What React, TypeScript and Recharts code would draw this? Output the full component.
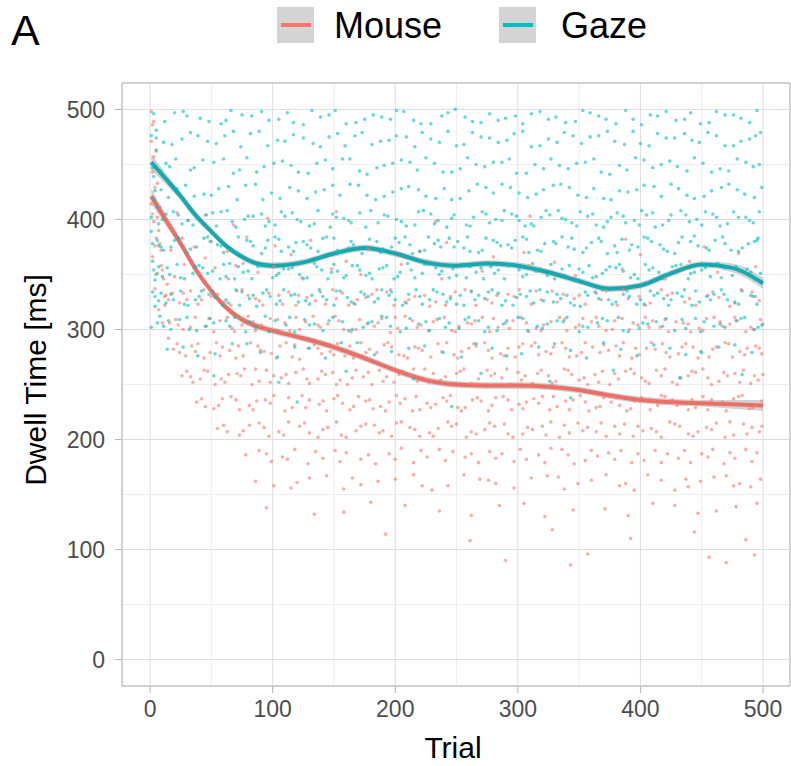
import { ComposedChart, Scatter, Line, Area, XAxis, YAxis, CartesianGrid, ReferenceLine, Label } from "recharts"

// smoothed fit (loess-like)
const fitTrials = [1, 12, 25, 37, 50, 62, 75, 87, 100, 125, 150, 175, 200, 225, 250, 275, 300, 325, 350, 375, 400, 425, 450, 475, 500]
const mouseFit = [421, 401, 378, 355, 335, 320, 309, 303, 299, 292, 284, 274, 263, 254, 250, 249, 249, 248, 245, 240, 236, 234, 233, 232, 231]
const gazeFit = [452, 438, 421, 404, 389, 376, 366, 360, 358, 361, 369, 374, 369, 361, 358, 360, 358, 352, 344, 337, 340, 351, 359, 356, 342]
const fitSe = [7, 5, 4, 4, 3, 3, 3, 3, 3, 3, 3, 3, 3, 3, 3, 3, 3, 3, 3, 3, 3, 3, 3, 4, 5]

const xTicks = [0, 100, 200, 300, 400, 500]
const yTicks = [0, 100, 200, 300, 400, 500]
const minorTicks = [50, 150, 250, 350, 450]

// [trial, dwell ms]
const mousePoints: [number, number][] = [
  [1,498],[2,486],[1,471],[3,457],[2,443],[4,429],[1,414],[3,398],[5,383],[2,366],[6,351],[4,337],[8,411],[9,372],[11,346],[13,331],[7,318],[10,306],[15,292],[3,489],[5,462],[6,433],[2,405],[7,390],[4,376],[9,358],[12,322],[14,341],
  [6,402],[14,397],[22,406],[31,399],[45,404],[68,395],[96,401],[152,407],[233,398],[310,403],
  [8,378],[17,372],[26,383],[36,375],[50,380],[63,371],[79,384],[102,376],[131,381],[178,373],[242,379],[305,370],[388,382],[452,375],
  [45,365],[70,358],[115,368],[160,362],[220,371],[280,366],[330,361],[400,368],[440,362],[480,369],
  [10,354],[20,348],[28,359],[40,351],[53,356],[64,346],[76,360],[88,352],[101,357],[124,347],[148,355],[172,350],[205,359],[238,346],[271,353],[309,358],[347,349],[385,355],[420,346],[463,352],[494,357],
  [12,330],[24,324],[33,335],[42,327],[55,332],[66,322],[75,336],[86,328],[97,333],[108,323],[121,331],[135,326],[149,336],[162,322],[176,329],[193,334],[208,325],[224,331],[241,322],[257,336],[275,327],[292,332],[311,323],[328,335],[346,328],[364,333],[381,322],[399,330],[417,336],[436,325],[455,331],[473,321],[491,334],
  [18,333],[30,327],[44,336],[61,325],[80,331],[92,322],[113,334],[128,329],[143,323],[157,333],[169,327],[185,336],[199,322],[216,330],[233,325],[249,334],[266,322],[283,331],[301,336],[319,327],[337,332],[355,323],[372,335],[390,328],[408,324],[426,333],[445,322],[464,329],[482,336],[497,326],
  [15,327],[27,333],[39,323],[50,330],[71,335],[89,326],[105,331],[119,322],[139,334],[152,328],[166,324],[181,332],[196,336],[211,327],[228,321],[245,330],[262,334],[279,324],[297,330],[315,335],[332,325],[350,331],[368,327],[386,336],[404,322],[422,331],[440,328],[459,334],[477,324],[494,330],
  [16,306],[27,300],[37,311],[46,303],[57,308],[69,298],[80,312],[91,304],[104,309],[114,299],[127,307],[139,302],[151,312],[164,298],[177,305],[189,310],[202,301],[214,308],[227,299],[240,311],[252,303],[265,308],[277,298],[290,306],[302,311],[315,301],[327,307],[340,299],[353,310],[366,303],[379,308],[391,300],[404,311],[416,302],[429,307],[441,298],[454,310],[467,303],[479,308],[492,300],[500,305],
  [21,309],[33,302],[52,298],[63,311],[75,304],[86,299],[98,310],[110,306],[122,300],[133,312],[145,305],[158,300],[171,309],[183,303],[196,297],[208,312],[221,304],[234,309],[246,299],[259,306],[271,311],[284,302],[296,308],[309,298],[321,304],[334,311],[347,302],[360,307],[372,299],[385,310],[398,304],[410,308],[423,298],[435,306],[448,301],[460,311],[473,305],[486,298],[498,309],
  [23,304],[48,310],[67,301],[84,307],[103,299],[119,311],[137,304],[154,308],[168,300],[186,306],[200,311],[218,302],[231,307],[249,298],[262,305],[280,310],[293,301],[307,306],[319,299],[338,309],[350,304],[364,311],[377,300],[394,306],[407,302],[420,309],[439,305],[451,299],[465,307],[477,311],[490,302],
  [19,282],[29,276],[39,287],[49,279],[59,284],[70,274],[82,288],[93,280],[106,285],[116,275],[129,283],[140,278],[153,287],[166,274],[179,282],[191,286],[203,277],[216,284],[229,275],[242,288],[254,280],[266,285],[279,274],[292,283],[304,287],[317,277],[329,284],[342,275],[355,288],[367,279],[380,285],[393,274],[405,283],[418,287],[431,278],[443,284],[456,275],[469,288],[481,280],[494,285],
  [24,279],[34,285],[44,274],[54,288],[65,281],[76,276],[88,285],[99,278],[111,288],[122,273],[134,286],[147,280],[159,276],[172,288],[185,279],[197,284],[210,274],[222,281],[235,287],[248,277],[260,283],[273,288],[286,278],[298,275],[311,285],[323,280],[336,288],[348,276],[361,284],[374,281],[386,288],[399,277],[412,282],[424,275],[437,287],[449,280],[462,284],[475,275],[487,283],[499,278],
  [22,287],[37,280],[57,276],[72,285],[90,281],[103,274],[118,286],[137,283],[150,277],[163,285],[176,279],[194,288],[207,276],[219,283],[238,280],[251,274],[264,287],[276,281],[289,276],[301,284],[314,288],[327,278],[339,283],[352,279],[370,286],[383,276],[396,283],[409,288],[421,279],[434,284],[447,274],[459,282],[472,287],[485,277],[497,283],
  [26,258],[35,252],[47,262],[58,255],[71,260],[83,250],[95,263],[107,256],[119,261],[130,251],[143,259],[155,254],[168,263],[181,250],[193,257],[206,262],[218,253],[231,260],[244,251],[256,264],[268,255],[281,260],[294,250],[306,258],[319,263],[331,253],[344,259],[357,250],[369,262],[382,255],[395,260],[407,251],[420,264],[433,256],[445,261],[458,250],[471,258],[484,263],[496,254],
  [30,262],[41,255],[53,250],[64,259],[77,264],[89,253],[101,258],[113,251],[125,264],[137,255],[149,261],[161,250],[174,257],[187,263],[199,252],[212,259],[224,264],[237,254],[250,260],[262,251],[275,263],[287,256],[300,261],[312,251],[325,258],[338,264],[350,254],[363,259],[375,250],[388,262],[401,256],[413,263],[426,252],[439,258],[451,264],[464,253],[477,260],[490,251],[500,259],
  [33,257],[44,263],[61,252],[74,258],[86,264],[98,252],[111,259],[128,255],[140,262],[152,250],[165,256],[178,261],[190,253],[203,259],[215,264],[228,252],[241,257],[253,262],[266,250],[278,258],[291,264],[303,254],[316,260],[328,251],[341,263],[354,256],[366,252],[379,260],[392,264],[404,253],[417,258],[430,250],[442,262],[455,256],[468,261],[481,252],[493,258],
  [38,234],[52,228],[66,239],[81,231],[94,236],[110,226],[124,240],[138,232],[150,237],[163,227],[176,235],[188,230],[201,240],[214,226],[226,233],[239,238],[251,229],[263,236],[276,226],[288,239],[301,232],[313,237],[326,227],[339,235],[351,240],[364,229],[376,234],[389,226],[401,238],[414,231],[426,236],[439,227],[451,239],[464,232],[476,237],[489,228],[499,235],
  [45,230],[59,237],[73,227],[87,235],[101,240],[116,229],[130,236],[144,226],[157,233],[170,239],[182,228],[195,234],[208,237],[220,227],[233,232],[245,240],[257,229],[270,235],[282,238],[295,227],[307,234],[320,239],[332,230],[345,236],[358,226],[370,238],[383,231],[395,235],[408,227],[420,239],[433,233],[445,229],[458,236],[470,226],[483,240],[495,231],
  [42,237],[56,231],[70,236],[84,227],[98,233],[113,238],[127,229],[141,235],[153,240],[166,230],[179,236],[192,226],[204,233],[217,239],[229,229],[242,235],[254,226],[267,238],[279,231],[292,236],[304,228],[317,233],[329,239],[342,227],[355,234],[367,230],[380,238],[392,228],[405,235],[417,240],[430,231],[442,236],[455,227],[467,234],[480,239],[492,229],
  [55,210],[73,204],[89,215],[105,207],[122,212],[137,202],[152,216],[168,208],[183,213],[197,203],[212,211],[228,206],[243,216],[258,202],[273,209],[289,214],[304,205],[320,212],[334,202],[349,215],[364,207],[379,212],[394,203],[409,210],[424,216],[439,205],[454,211],[469,202],[484,214],[497,207],
  [63,207],[81,213],[97,203],[113,216],[130,206],[145,211],[160,202],[176,214],[190,208],[205,216],[220,203],[235,210],[250,214],[266,205],[281,212],[296,202],[312,209],[327,216],[342,206],[357,211],[372,203],[387,214],[402,208],[417,202],[432,212],[447,207],[462,215],[476,204],[491,211],
  [60,213],[76,208],[93,211],[109,204],[126,215],[141,209],[156,204],[172,212],[187,206],[201,215],[216,209],[231,203],[246,212],[262,207],[277,215],[292,205],[308,211],[323,204],[338,213],[353,208],[368,215],[383,205],[398,212],[413,207],[428,214],[443,203],[458,209],[473,216],[487,205],[499,212],
  [78,186],[99,180],[118,191],[141,183],[160,188],[184,178],[205,192],[226,184],[247,189],[268,179],[287,187],[307,182],[327,192],[346,178],[365,185],[384,190],[403,181],[422,187],[441,179],[459,191],[477,183],[495,188],
  [89,190],[108,184],[129,178],[151,190],[172,182],[195,187],[215,179],[236,191],[257,184],[277,189],[297,180],[317,186],[336,191],[355,181],[374,188],[393,179],[412,190],[431,183],[450,187],[468,178],[486,191],
  [95,187],[112,182],[135,189],[155,180],[178,186],[200,182],[221,190],[241,181],[262,187],[282,183],[302,191],[322,179],[341,186],[360,190],[379,182],[398,187],[417,179],[436,190],[455,184],[473,188],[491,180],
  [86,162],[115,156],[144,167],[172,159],[200,164],[230,154],[256,168],[282,160],[311,165],[338,155],[360,163],[383,158],[406,168],[428,154],[449,162],[470,167],[490,157],
  [101,158],[130,165],[158,155],[186,162],[215,168],[243,158],[269,164],[297,156],[324,167],[349,160],[372,168],[395,154],[417,163],[439,157],[460,166],[481,160],[498,164],
  [120,161],[165,165],[222,158],[276,163],[333,166],[388,160],[437,164],[476,158],
  [95,138],[134,132],[180,143],[236,135],[285,140],[322,130],[371,137],[410,142],[447,133],[478,139],
  [158,134],[208,140],[262,131],[305,142],[345,136],[390,131],[428,140],[462,135],[495,142],
  [192,114],[261,108],[328,118],[392,110],[444,116],[486,109],
  [290,90],[343,86],[357,96],[456,93],[470,88],[493,95],
]

const gazePoints: [number, number][] = [
  [1,476],[2,447],[3,418],[1,389],[2,362],[4,321],[1,302],[5,463],[3,439],[6,411],[2,334],[7,376],[4,345],[8,312],[5,481],
  [3,496],[12,489],[27,498],[41,492],[58,487],[66,499],[83,494],[97,490],[112,497],[125,486],[139,493],[151,499],[168,488],[182,495],[196,491],[207,498],[221,487],[238,494],[249,500],[263,489],[277,496],[290,492],[304,487],[318,498],[331,493],[347,489],[359,497],[372,491],[388,499],[401,486],[414,494],[429,490],[441,497],[456,488],[469,495],[482,492],[495,499],
  [20,497],[48,489],[75,495],[105,491],[132,499],[160,487],[189,493],[215,490],[243,497],[270,488],[298,494],[325,491],[353,499],[380,487],[408,495],[436,491],[462,498],[489,488],
  [30,494],[62,490],[91,498],[117,488],[146,495],[175,491],[201,499],[229,487],[257,493],[284,490],[311,496],[339,488],[366,494],[394,491],[421,498],[449,487],[476,495],
  [5,474],[18,468],[33,479],[47,471],[61,476],[74,466],[89,480],[104,472],[117,477],[133,469],[146,475],[159,467],[173,479],[188,471],[201,476],[216,466],[229,473],[243,480],[256,468],[270,475],[284,470],[297,478],[311,466],[325,473],[338,479],[352,469],[366,476],[379,471],[394,480],[407,467],[421,474],[436,478],[448,470],[462,476],[476,467],[489,473],[498,479],
  [11,470],[39,476],[68,480],[96,467],[125,474],[153,478],[181,468],[209,475],[236,470],[263,479],[291,472],[318,467],[345,476],[373,480],[400,469],[428,474],[455,479],[482,471],
  [26,473],[54,469],[82,478],[110,471],[139,466],[167,476],[195,472],[222,479],[250,467],[277,474],[304,480],[332,470],[359,475],[387,468],[414,478],[442,472],[469,467],[494,476],
  [2,450],[9,444],[21,455],[36,447],[52,452],[68,442],[79,456],[93,448],[108,453],[121,443],[136,451],[149,446],[163,455],[177,441],[191,449],[205,454],[218,445],[232,451],[246,443],[259,456],[273,448],[287,452],[299,442],[314,450],[327,455],[341,446],[355,452],[368,443],[383,449],[396,456],[410,447],[424,453],[438,444],[451,451],[465,446],[479,455],[492,448],
  [16,448],[43,454],[73,445],[101,451],[129,442],[157,455],[185,447],[212,452],[239,443],[266,450],[293,455],[321,446],[348,451],[375,441],[403,454],[430,448],[458,443],[486,452],
  [13,451],[33,445],[60,455],[87,443],[115,449],[143,454],[171,444],[198,451],[225,456],[253,446],[280,452],[307,442],[334,449],[362,455],[389,445],[417,450],[444,456],[472,444],[497,450],
  [4,426],[15,420],[29,431],[44,423],[56,428],[71,418],[86,432],[99,424],[114,429],[128,419],[142,427],[155,422],[170,431],[184,418],[198,425],[211,430],[225,421],[240,428],[253,419],[267,432],[280,424],[294,429],[308,420],[321,427],[335,432],[349,422],[362,428],[376,418],[390,425],[403,431],[417,421],[431,428],[444,419],[458,426],[472,432],[485,423],[499,429],
  [9,427],[36,421],[64,430],[92,418],[121,426],[149,431],[177,422],[205,428],[233,419],[260,426],[287,432],[315,423],[342,429],[370,419],[397,427],[425,432],[452,421],[479,427],
  [22,428],[50,422],[78,431],[106,419],[135,425],[163,432],[191,421],[219,427],[246,418],[274,429],[301,424],[329,431],[356,420],[383,426],[411,430],[438,422],[466,429],[493,420],
  [1,402],[7,396],[19,407],[31,399],[46,404],[54,394],[63,408],[77,400],[91,405],[102,395],[110,403],[123,398],[137,408],[147,393],[158,401],[171,406],[186,397],[194,403],[209,394],[223,408],[235,399],[248,404],[258,395],[271,407],[282,400],[295,405],[306,394],[319,402],[333,408],[344,397],[357,403],[370,393],[381,406],[395,399],[405,404],[418,395],[433,408],[446,400],[459,405],[471,396],[486,402],[497,407],
  [13,405],[26,396],[40,401],[58,407],[70,393],[84,403],[97,398],[116,406],[130,394],[152,402],[164,397],[180,408],[201,400],[216,395],[229,405],[242,393],[264,402],[277,397],[289,408],[301,399],[313,394],[326,404],[339,400],[351,407],[364,395],[376,402],[388,397],[401,408],[412,393],[425,404],[440,398],[453,407],[465,394],[480,402],[492,397],
  [10,400],[23,404],[35,395],[51,406],[67,398],[80,403],[94,394],[107,407],[120,400],[134,396],[149,405],[162,399],[176,393],[191,404],[205,398],[219,407],[232,396],[246,401],[261,394],[274,405],[287,399],[299,403],[311,396],[323,408],[336,401],[348,394],[361,405],[373,398],[386,403],[399,395],[410,406],[423,399],[437,404],[450,395],[462,402],[476,407],[489,399],
  [2,378],[11,372],[23,383],[38,375],[49,380],[60,370],[72,384],[84,376],[96,381],[107,371],[119,379],[131,374],[144,384],[156,370],[166,377],[179,382],[190,373],[203,379],[214,369],[227,384],[237,375],[251,380],[261,371],[274,383],[286,376],[298,381],[309,370],[322,378],[336,384],[346,373],[360,379],[373,369],[385,382],[398,375],[409,380],[422,371],[434,384],[447,376],[461,381],[474,372],[488,378],[496,383],
  [6,381],[17,375],[30,370],[44,383],[55,377],[67,372],[79,381],[91,369],[102,384],[113,375],[125,380],[137,371],[150,383],[162,374],[173,369],[185,380],[197,375],[208,384],[220,371],[232,378],[244,383],[256,374],[268,370],[280,381],[292,377],[304,384],[316,372],[329,380],[341,375],[353,370],[366,383],[379,376],[391,372],[403,384],[416,377],[428,369],[441,380],[454,374],[467,384],[480,371],[493,380],
  [9,375],[20,381],[33,373],[47,384],[58,376],[70,370],[82,380],[94,374],[105,382],[117,371],[128,377],[141,383],[153,372],[164,380],[176,375],[188,370],[200,383],[212,377],[224,372],[235,381],[248,375],[259,384],[271,372],[283,379],[295,374],[307,382],[319,371],[331,378],[344,383],[356,374],[368,380],[381,370],[393,377],[406,383],[419,373],[431,379],[444,385],[456,372],[469,378],[483,374],[495,381],
  [3,354],[10,348],[22,359],[35,351],[43,356],[57,346],[65,360],[76,352],[88,357],[100,347],[109,355],[122,350],[134,360],[145,346],[153,353],[165,358],[176,349],[187,355],[199,346],[210,360],[222,351],[233,356],[244,347],[255,359],[266,352],[278,357],[289,346],[301,354],[312,360],[324,349],[336,355],[348,345],[358,358],[369,351],[380,356],[392,347],[404,359],[415,352],[426,357],[439,346],[450,354],[463,360],[475,349],[487,355],[498,351],
  [7,357],[16,350],[28,346],[40,358],[51,353],[62,348],[72,357],[83,346],[94,359],[105,351],[116,356],[128,347],[140,354],[150,359],[160,349],[171,354],[181,346],[193,358],[204,352],[216,347],[227,359],[238,353],[250,349],[261,357],[272,346],[284,354],[295,359],[307,350],[318,355],[330,346],[342,358],[353,352],[364,348],[375,357],[386,353],[398,346],[410,356],[421,350],[433,359],[444,352],[457,348],[469,356],[481,353],[493,346],
  [5,350],[14,356],[25,347],[37,357],[47,351],[60,359],[69,346],[80,353],[91,358],[103,349],[113,355],[125,346],[136,357],[148,352],[158,347],[169,358],[179,351],[190,356],[202,348],[213,354],[224,359],[236,350],[247,355],[258,347],[270,356],[281,351],[292,358],[304,348],[315,353],[327,359],[338,349],[350,355],[361,347],[372,354],[383,359],[395,350],[407,354],[418,346],[429,358],[441,351],[453,356],[466,347],[478,357],[490,352],
  [4,330],[13,324],[25,335],[37,327],[48,332],[59,322],[70,336],[81,328],[92,333],[103,323],[115,331],[127,326],[138,336],[150,322],[161,329],[172,334],[183,325],[195,331],[206,322],[217,336],[228,327],[239,332],[250,323],[262,335],[273,328],[284,333],[296,322],[307,330],[318,336],[329,325],[340,331],[351,321],[363,334],[374,327],[386,332],[397,323],[408,335],[419,328],[430,333],[442,322],[454,330],[466,336],[477,325],[490,331],
  [9,333],[19,327],[31,322],[42,335],[53,329],[64,324],[75,334],[87,321],[98,330],[109,336],[121,325],[132,331],[144,327],[155,335],[167,323],[178,330],[189,336],[200,327],[211,332],[222,323],[234,334],[245,328],[256,322],[268,331],[279,336],[290,326],[302,332],[313,324],[324,334],[335,328],[346,322],[357,331],[369,336],[380,325],[391,330],[403,323],[414,333],[425,327],[436,336],[448,325],[460,332],[471,327],[483,335],[495,323],
  [7,326],[17,332],[28,323],[40,330],[51,335],[62,327],[73,322],[84,331],[95,336],[106,326],[118,332],[130,323],[141,330],[152,335],[164,325],[175,332],[186,328],[197,334],[209,324],[220,330],[231,336],[242,325],[253,331],[265,327],[276,334],[287,322],[299,329],[310,335],[321,326],[332,332],[343,324],[355,334],[366,328],[377,323],[389,335],[400,327],[411,331],[423,322],[434,330],[445,335],[457,327],[468,332],[480,323],[492,330],
  [6,306],[17,300],[30,311],[45,303],[62,308],[78,298],[94,312],[111,304],[126,309],[141,299],[157,307],[174,302],[189,312],[204,298],[219,305],[236,310],[252,301],[268,308],[283,299],[300,311],[316,303],[332,308],[350,298],[365,306],[382,311],[399,301],[413,307],[428,299],[445,310],[460,303],[478,308],[493,300],
  [11,303],[24,309],[38,299],[52,306],[69,311],[86,302],[102,308],[118,298],[134,305],[149,311],[165,300],[181,307],[196,303],[212,310],[228,299],[244,306],[260,311],[276,302],[291,308],[308,299],[324,305],[340,311],[357,302],[373,308],[390,298],[406,305],[421,310],[437,301],[452,307],[469,302],[485,311],[499,304],
  [15,308],[32,300],[49,310],[65,303],[81,307],[97,298],[114,311],[130,304],[146,308],[162,299],[178,306],[193,311],[209,301],[225,307],[241,302],[257,309],[273,298],[288,305],[304,310],[320,301],[337,307],[353,303],[369,310],[386,299],[402,306],[418,303],[434,309],[449,298],[465,305],[482,310],[496,302],
  [14,282],[39,276],[67,287],[90,279],[118,284],[143,274],[169,288],[197,280],[224,285],[254,275],[279,283],[303,278],[330,287],[356,274],[384,282],[411,286],[437,277],[464,284],[491,279],
  [27,284],[53,278],[79,287],[104,275],[130,283],[156,288],[183,277],[211,283],[239,279],[266,287],[291,276],[317,284],[343,281],[370,288],[397,276],[424,283],[450,279],[477,286],
  [52,258],[105,252],[160,262],[215,255],[270,260],[326,253],[378,263],[432,256],[483,259],
  [120,234],[246,230],[343,238],
]

const MOUSE = "#F8766D"
const GAZE = "#00BFC4"
const FONT = "'Liberation Sans', Arial, sans-serif"

const fitRows = fitTrials.map((trial, i) => ({
  trial,
  mouse: mouseFit[i],
  gaze: gazeFit[i],
  mouseBand: [mouseFit[i] - fitSe[i], mouseFit[i] + fitSe[i]],
  gazeBand: [gazeFit[i] - fitSe[i], gazeFit[i] + fitSe[i]],
}))
const mouseRows = mousePoints.map(([trial, ms]) => ({ trial, ms }))
const gazeRows = gazePoints.map(([trial, ms]) => ({ trial, ms }))

const dot = (color: string) => (props: any) =>
  props.cx == null ? <g /> : <circle cx={props.cx} cy={props.cy} r={1.8} fill={color} fillOpacity={0.6} />

export default function App() {
  return (
    <div style={{ position: "absolute", left: 0, top: 0, width: 791, height: 766, background: "#fff", fontFamily: FONT }}>
      <ComposedChart width={791} height={766} data={fitRows} margin={{ top: 83, right: 1, bottom: 0, left: 0 }}>
        <CartesianGrid stroke="#eeeeee" horizontalValues={minorTicks} verticalValues={minorTicks} />
        <CartesianGrid stroke="#dedede" />
        <XAxis
          type="number"
          dataKey="trial"
          domain={[-22.9, 522]}
          ticks={xTicks}
          allowDataOverflow
          height={80}
          tickSize={7}
          tickMargin={8}
          stroke="#b3b3b3"
          tick={{ fill: "#4d4d4d", fontSize: 23, fontFamily: FONT }}
        >
          <Label
            content={() => (
              <text x={453} y={758} textAnchor="middle" fontSize={30} fontFamily={FONT} fill="#000">
                Trial
              </text>
            )}
          />
        </XAxis>
        <YAxis
          type="number"
          domain={[-24, 524]}
          ticks={yTicks}
          allowDataOverflow
          width={122}
          tickSize={7}
          tickMargin={10}
          stroke="#b3b3b3"
          tick={{ fill: "#4d4d4d", fontSize: 23, fontFamily: FONT }}
        >
          <Label
            content={() => (
              <text x={46} y={380} transform="rotate(-90 46 380)" textAnchor="middle" fontSize={30} fontFamily={FONT} fill="#000">
                Dwell Time [ms]
              </text>
            )}
          />
        </YAxis>
        <ReferenceLine y={524} stroke="#b3b3b3" />
        <ReferenceLine x={522} stroke="#b3b3b3" />
        <Scatter data={mouseRows} dataKey="ms" shape={dot(MOUSE)} isAnimationActive={false} />
        <Scatter data={gazeRows} dataKey="ms" shape={dot(GAZE)} isAnimationActive={false} />
        <Area type="monotone" dataKey="mouseBand" stroke="none" fill="#999999" fillOpacity={0.45} isAnimationActive={false} />
        <Area type="monotone" dataKey="gazeBand" stroke="none" fill="#999999" fillOpacity={0.45} isAnimationActive={false} />
        <Line type="monotone" dataKey="mouse" stroke="#ec6f66" strokeWidth={4} dot={false} isAnimationActive={false} />
        <Line type="monotone" dataKey="gaze" stroke="#16a8af" strokeWidth={4} dot={false} isAnimationActive={false} />
      </ComposedChart>
      <svg width={791} height={60} style={{ position: "absolute", left: 0, top: 0 }} fontFamily={FONT}>
        <text x={11} y={45} fontSize={43} fill="#000">A</text>
        <rect x={277} y={7} width={37} height={36} fill="#d4d4d4" />
        <line x1={281} x2={311} y1={25} y2={25} stroke={MOUSE} strokeWidth={4} />
        <text x={334} y={38} fontSize={36} fill="#000">Mouse</text>
        <rect x={499} y={7} width={37} height={36} fill="#d4d4d4" />
        <line x1={503} x2={533} y1={25} y2={25} stroke={GAZE} strokeWidth={4} />
        <text x={561} y={38} fontSize={36} fill="#000">Gaze</text>
      </svg>
    </div>
  )
}
